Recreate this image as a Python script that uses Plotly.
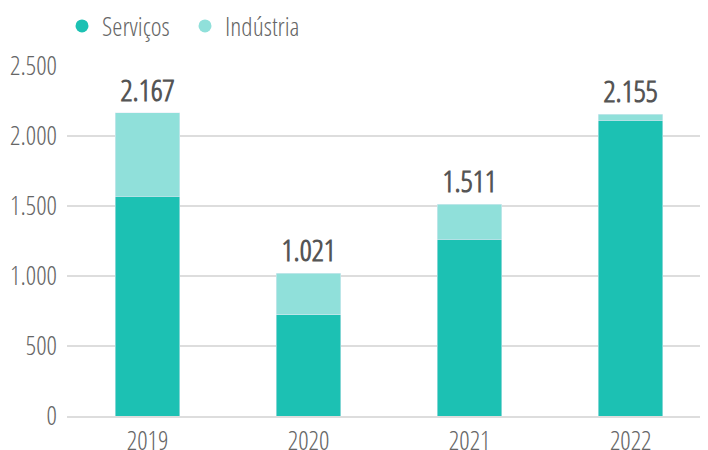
import plotly.graph_objects as go

anos = ["2019", "2020", "2021", "2022"]
servicos = [1570, 722, 1264, 2114]
industria = [597, 299, 247, 41]
totais = [2167, 1021, 1511, 2155]

cor_servicos = "#1cc1b3"
cor_industria = "#90e0da"
fonte = "Open Sans Condensed Light, Open Sans Condensed, DejaVu Sans Condensed, Liberation Sans Narrow, Open Sans"

fig = go.Figure()
fig.add_trace(go.Bar(x=anos, y=servicos, name="Serviços", marker_color=cor_servicos,
                     showlegend=False, width=0.4))
fig.add_trace(go.Bar(x=anos, y=industria, name="Indústria", marker_color=cor_industria,
                     showlegend=False, width=0.4,
                     customdata=totais, texttemplate="<b>%{customdata:,d}</b>",
                     textposition="outside", cliponaxis=False,
                     textfont=dict(size=30, color="#555555", family=fonte)))

# legend entries with round markers
for nome, cor in [("Serviços", cor_servicos), ("Indústria", cor_industria)]:
    fig.add_trace(go.Scatter(x=[None], y=[None], mode="markers", name=nome,
                             marker=dict(color=cor, size=13, symbol="circle")))

# page body has an 8px margin, so the figure is a bit smaller than the window
fig.update_layout(
    barmode="stack",
    width=700, height=442,
    margin=dict(l=59, r=0, t=58, b=34, autoexpand=False),
    separators=",.",
    plot_bgcolor="white", paper_bgcolor="white",
    font=dict(family=fonte, size=26, color="#666666"),
    legend=dict(orientation="h", x=54 / 700, y=1 - 18 / 442, xanchor="left", yanchor="middle",
                xref="container", yref="container",
                font=dict(size=26, color="#666666"), itemwidth=30,
                entrywidth=78, entrywidthmode="pixels", traceorder="normal"),
)
fig.update_xaxes(range=[-0.5, 3.48], showline=True, linecolor="#dddddd", linewidth=1.5,
                 ticks="", ticklabelstandoff=1, showgrid=False, automargin=False)
fig.update_yaxes(range=[0, 2500], tickvals=[0, 500, 1000, 1500, 2000, 2500], tickformat=",d",
                 showgrid=True, gridcolor="#dddddd", gridwidth=1.5, zeroline=False,
                 ticks="", ticklabelstandoff=9, automargin=False)

fig.write_html("out.html")
